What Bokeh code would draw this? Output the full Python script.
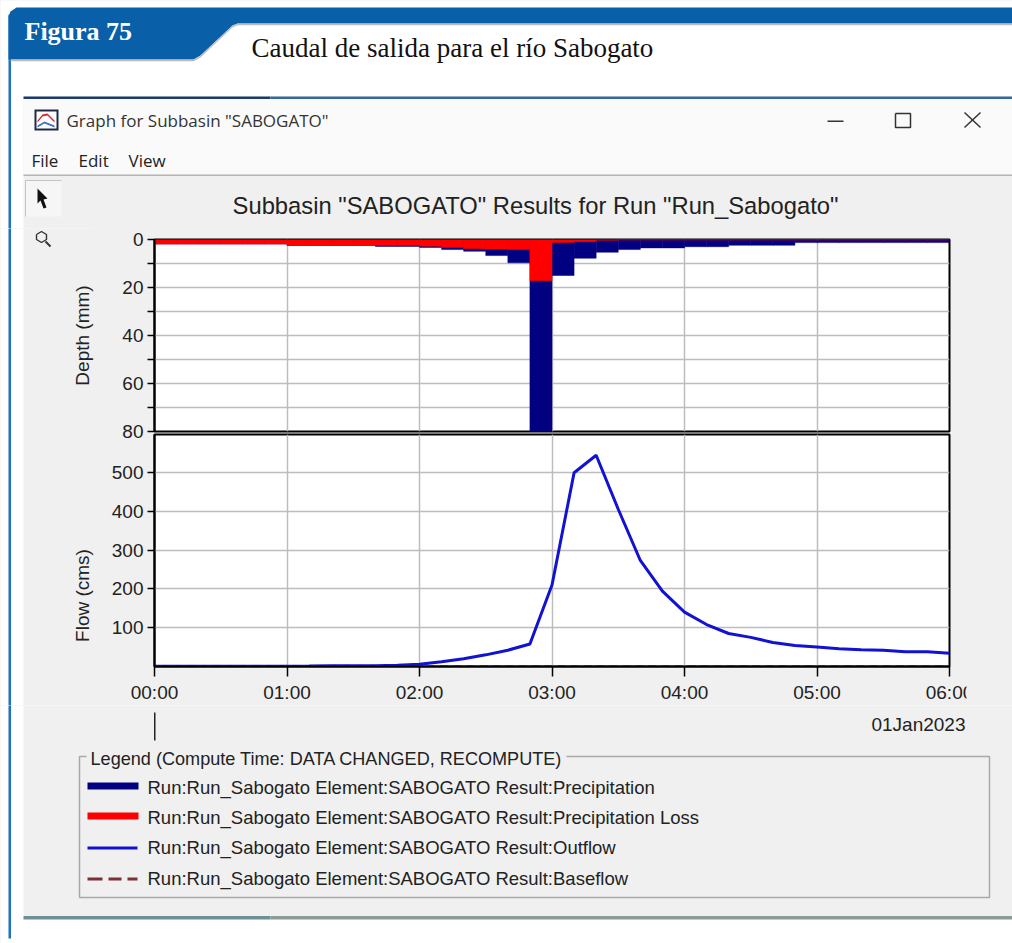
from math import pi
from bokeh.embed import file_html
from bokeh.layouts import column, row
from bokeh.resources import INLINE
from bokeh.plotting import figure
from bokeh.models import ColumnDataSource, FixedTicker, Grid, Label, LinearAxis, Range1d

# ---------- data ----------
step_start_min = [i * 10 for i in range(36)]
flow_time_min = [i * 10 for i in range(37)]
precipitation_mm = [1.9, 1.9, 1.9, 1.9, 1.9, 1.9, 2.5, 2.5, 2.5, 2.5, 2.9, 2.9,
                    3.3, 4.2, 4.9, 6.7, 9.7, 80.0, 15.0, 7.8, 5.3, 4.2, 3.5, 3.5,
                    3.0, 3.0, 2.4, 2.4, 2.4, 1.3, 1.3, 1.3, 1.3, 1.3, 1.3, 1.3]
precip_loss_mm = [1.9, 1.9, 1.9, 1.9, 1.9, 1.9, 2.5, 2.5, 2.5, 2.5, 2.5, 2.5,
                  2.8, 3.3, 3.9, 4.0, 4.2, 17.2, 1.2, 0.9, 0.3, 0.2, 0.2, 0.2,
                  0.2, 0.2, 0.2, 0.2, 0.2, 0.2, 0.2, 0.2, 0.2, 0.2, 0.2, 0.2]
outflow_cms = [0.5, 0.5, 0.5, 0.5, 0.5, 0.5, 0.5, 1, 2, 2, 2, 3,
               6, 12, 20, 30, 42, 58, 210, 499, 544, 405, 273, 194,
               140, 108, 85, 75, 62, 54, 50, 46, 43, 42, 38, 38, 34]
baseflow_cms = [0.5] * 37

x_ticks = [0, 60, 120, 180, 240, 300, 360]
x_labels = ["00:00", "01:00", "02:00", "03:00", "04:00", "05:00", "06:00"]
depth_ticks = [0, 10, 20, 30, 40, 50, 60, 70, 80]
depth_labels = ["0", "", "20", "", "40", "", "60", "", "80"]
flow_ticks = [100, 200, 300, 400, 500]

figure_label = "Figura 75"
figure_title = "Caudal de salida para el río Sabogato"
window_title = 'Graph for Subbasin "SABOGATO"'
menu_items = ["File", "Edit", "View"]
chart_title = 'Subbasin "SABOGATO" Results for Run "Run_Sabogato"'
depth_title = "Depth (mm)"
flow_title = "Flow (cms)"
date_label = "01Jan2023"
legend_title = "Legend (Compute Time: DATA CHANGED, RECOMPUTE)"
legend_labels = ["Run:Run_Sabogato Element:SABOGATO Result:Precipitation",
                 "Run:Run_Sabogato Element:SABOGATO Result:Precipitation Loss",
                 "Run:Run_Sabogato Element:SABOGATO Result:Outflow",
                 "Run:Run_Sabogato Element:SABOGATO Result:Baseflow"]

# ---------- style ----------
NAVY, RED, BLUE, BROWN = "#000080", "#ff0000", "#1212d2", "#7d2f35"
GRAY, WHITEISH, HEADER, GRID_C = "#f0f0f0", "#fafafa", "#0a60a8", "#bdbdbd"
TXT = "#222222"
SANS, SERIF, UI = "Liberation Sans", "Liberation Serif", "Open Sans"
W, H = 1012, 943
Y_TOP_END, Y_DIV, Y_DEPTH_END, Y_CHART_END = 228, 433, 445, 705
X_STRIP, X_CHART_END, X_CUT = 95, 975, 966
BORDER_BLUE = "#1b72c0"


def canvas(x0, x1, y0, y1, fill="white"):
    """A figure whose frame is the whole canvas, addressed in page pixels."""
    f = figure(width=x1 - x0, height=y1 - y0, output_backend="svg", toolbar_location=None,
               x_range=Range1d(x0, x1), y_range=Range1d(y1, y0),
               x_axis_location=None, y_axis_location=None, min_border=0,
               border_fill_color=fill, background_fill_color=fill, outline_line_color=None)
    f.grid.visible = False
    return f


def box(f, x0, y0, x1, y1, color):
    f.quad(left=[x0], right=[x1], top=[y0], bottom=[y1], fill_color=color, line_color=None)


def poly(f, xs, ys, color):
    f.patch(xs, ys, fill_color=color, line_color=None)


def stroke(f, xs, ys, color="#333333", width=1.5):
    f.line(xs, ys, line_color=color, line_width=width)


def text(f, x, y, s, size, color=TXT, font=SANS, align="left", style="normal", angle=0):
    f.add_layout(Label(x=x, y=y, text=s, text_font=font, text_font_size=f"{size}px", text_color=color,
                       text_align=align, text_baseline="middle", text_font_style=style, angle=angle))


# ---------- header and window top ----------
top = canvas(0, W, 0, Y_TOP_END)
box(top, 23, 96, W + 3, Y_TOP_END + 3, GRAY)
box(top, 23, 98, W + 3, 174, WHITEISH)
box(top, 23, 174, W + 3, 175.5, "#b5b5b5")
box(top, 23, 96, 270, 98.5, "#1c3a6e")
box(top, 270, 96, W + 3, 98.5, "#36689a")
box(top, 8, 14, 10.5, Y_TOP_END + 3, BORDER_BLUE)
poly(top, [8, 8, 10, 16, W + 3, W + 3, 237, 232, 200, 193, 8],
     [62, 16, 11, 7, 7, 23, 23, 25, 55, 59, 59], HEADER)
stroke(top, [10, 193, 200, 232, 237, W + 3], [60, 60, 56, 26, 24, 24], "#bcbcbc", 1.5)
text(top, 24, 31, figure_label, 26, "white", SERIF, style="bold")
text(top, 251, 47, figure_title, 27, "#111111", SERIF)

box(top, 34, 109, 58, 130, "#1e2a44")
box(top, 36, 111, 56, 128, "white")
poly(top, [37, 42, 47, 54, 54, 47, 42, 37], [120, 114, 113, 120, 122, 115, 116, 122], "#d8262c")
poly(top, [37, 44, 54, 54, 44, 37], [125, 121, 125, 127, 123, 127], "#3c6fd0")
text(top, 66, 120, window_title, 17, "#333333", UI)
for x, s in zip([31, 78, 128], menu_items):
    text(top, x, 160, s, 17, "#222222", UI)
box(top, 827, 120, 843, 121.5, "#333333")
stroke(top, [895, 910, 910, 895, 895], [113, 113, 127, 127, 113])
stroke(top, [964, 980], [112, 127])
stroke(top, [980, 964], [112, 127])
box(top, 25, 180, 61, 216, "#f6f6f6")
stroke(top, [25, 25, 61], [216, 180, 180], "#c4c4c4", 1)
poly(top, [37, 37, 40, 43, 46, 43, 47], [188, 203, 200, 208, 207, 199, 198], "#111111")
text(top, 535, 205, chart_title, 23.75, align="center")

# ---------- left and right strips ----------
left = canvas(0, X_STRIP, Y_TOP_END, Y_CHART_END)
box(left, 23, Y_TOP_END - 3, X_STRIP + 3, Y_CHART_END + 3, GRAY)
box(left, 8, Y_TOP_END - 3, 10.5, Y_CHART_END + 3, BORDER_BLUE)
stroke(left, [36, 41, 46, 46, 41, 36, 36], [234, 231, 234, 239, 242, 239, 234], "#333333", 1.4)
stroke(left, [45, 50], [241, 246], "#333333", 2)
text(left, 82, 335, depth_title, 19, align="center", angle=pi / 2)
text(left, 82, 595, flow_title, 19, align="center", angle=pi / 2)
right = canvas(X_CUT, W, Y_TOP_END, Y_CHART_END, GRAY)
right.margin = (0, 0, 0, X_CUT - X_CHART_END)   # covers the end of the last tick label

# ---------- the two panels ----------
axis_style = dict(major_label_text_font=SANS, major_label_text_font_size="19px", major_label_text_color=TXT,
                  major_tick_out=7, major_tick_in=0, major_tick_line_color="black", major_tick_line_width=1.5,
                  minor_tick_out=0, minor_tick_in=0, axis_line_color="black", axis_line_width=2,
                  major_label_standoff=4)


def panel(height, y_range, top_px, bottom_px, fill):
    f = figure(width=X_CHART_END - X_STRIP, height=height, output_backend="svg", toolbar_location=None,
               x_range=Range1d(0, 360), y_range=y_range, x_axis_location=None, y_axis_location=None,
               min_border_left=154 - X_STRIP, min_border_right=X_CHART_END - 949,
               min_border_top=top_px, min_border_bottom=bottom_px,
               border_fill_color=fill, background_fill_color="white",
               outline_line_color="black", outline_line_width=2)
    f.grid.visible = False
    f.add_layout(Grid(dimension=0, ticker=FixedTicker(ticks=x_ticks[1:-1]),
                      grid_line_color=GRID_C, grid_line_width=1.5))
    return f


depth = panel(Y_DEPTH_END - Y_TOP_END, Range1d(80, 0), 239 - Y_TOP_END, Y_DEPTH_END - 431, None)
depth.add_layout(Grid(dimension=1, ticker=FixedTicker(ticks=depth_ticks[1:-1]),
                      grid_line_color=GRID_C, grid_line_width=1.5))
bars = ColumnDataSource(dict(left=step_start_min, right=[t + 10 for t in step_start_min],
                             precip=precipitation_mm, loss=precip_loss_mm,
                             zero=[0] * len(step_start_min)))
depth.quad(left="left", right="right", top="zero", bottom="precip", source=bars,
           fill_color=NAVY, line_color=NAVY, line_width=0.5)
depth.quad(left="left", right="right", top="zero", bottom="loss", source=bars,
           fill_color=RED, line_color=RED, line_width=0.5)
depth.add_layout(LinearAxis(ticker=FixedTicker(ticks=depth_ticks),
                            major_label_overrides=dict(zip(depth_ticks, depth_labels)), **axis_style), "left")

flow = panel(Y_CHART_END - Y_DIV, Range1d(0, 597.5), 434 - Y_DIV, Y_CHART_END - 670, None)
flow.margin = (Y_DIV - Y_DEPTH_END, 0, 0, 0)   # lets the last depth label show through
flow.add_layout(Grid(dimension=1, ticker=FixedTicker(ticks=flow_ticks),
                     grid_line_color=GRID_C, grid_line_width=1.5))
flow.line(flow_time_min, outflow_cms, line_color=BLUE, line_width=3)
flow.line(flow_time_min, baseflow_cms, line_color=BROWN, line_width=2, line_dash="8 5")
flow.add_layout(LinearAxis(ticker=FixedTicker(ticks=flow_ticks), **axis_style), "left")
x_axis = LinearAxis(ticker=FixedTicker(ticks=x_ticks), major_label_overrides=dict(zip(x_ticks, x_labels)), **axis_style)
x_axis.major_tick_out = 10
x_axis.major_label_standoff = 5
flow.add_layout(x_axis, "below")

# ---------- bottom: date and legend ----------
bottom = canvas(0, W, Y_CHART_END, H)
box(bottom, 23, Y_CHART_END - 3, W + 3, 918, GRAY)
box(bottom, 23, 915.5, 270, 919, "#6f8f96")
box(bottom, 270, 915.5, W + 3, 919, "#8d9a98")
box(bottom, 8, Y_CHART_END - 3, 10.5, 938, BORDER_BLUE)
box(bottom, 153.5, 712, 155, 740, "#222222")
text(bottom, 965, 724, date_label, 19, align="right")
stroke(bottom, [86, 79, 79, 989, 989, 566], [756, 756, 897, 897, 756, 756], "#a9a9a9", 1.5)
text(bottom, 90, 758, legend_title, 18.1)
box(bottom, 87, 782, 138, 789, NAVY)
box(bottom, 87, 812, 138, 819, RED)
box(bottom, 87, 846, 137, 849, BLUE)
for x0, x1 in [(87, 102), (108, 121), (127, 137)]:
    box(bottom, x0, 877, x1, 880, BROWN)
for y, s in zip([787, 817, 847, 878], legend_labels):
    text(bottom, 147, y, s, 18.5)

charts = column(depth, flow, styles={"background-color": GRAY})
page = column(top, row(left, charts, right), bottom, styles={"background-color": GRAY})
open("out.html", "w").write(file_html(page, INLINE))
